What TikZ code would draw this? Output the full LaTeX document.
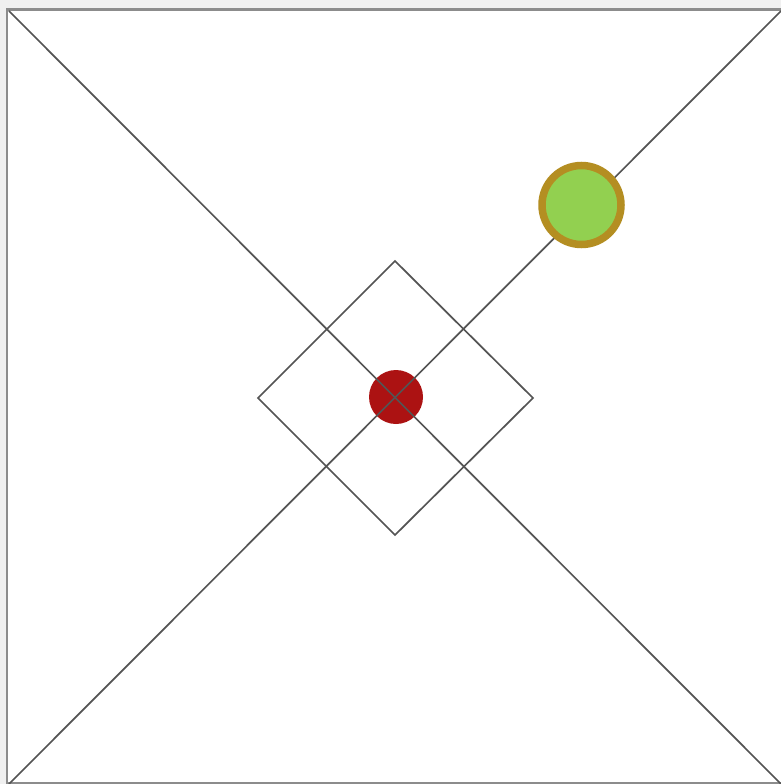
\documentclass[tikz,border=0pt]{standalone}
\begin{document}
\begin{tikzpicture}[x=1pt,y=-1pt,
  lineseg/.style={draw=black!67,line width=1.7pt},
  reddot/.style={circle,fill=red!65!black,fill opacity=0.93,minimum size=54pt,inner sep=0pt},
  greendot/.style={circle,fill={rgb,255:red,146;green,208;blue,80},draw={rgb,255:red,180;green,142;blue,34},line width=7.5pt,minimum size=79pt,inner sep=0pt}]
\useasboundingbox (0,0) rectangle (781,784);
\clip (0,0) rectangle (781,784);
\fill[black!6] (0,0) rectangle (781,784);
\draw[fill=white,draw=black!45,line width=2.6pt] (7,9.5) rectangle (790,783);
\coordinate (tl) at (9,11);
\coordinate (br) at (781,784);
\coordinate (bl) at (9,784);
\coordinate (tr) at (781,11);
\coordinate (dt) at (395,261);
\coordinate (dr) at (533,398);
\coordinate (db) at (395,535);
\coordinate (dl) at (258,398);
\node[reddot] (red) at (396,397) {};
\draw[lineseg] (tl) -- (br);
\draw[lineseg] (bl) -- (tr);
\draw[lineseg,line join=miter] (dt) -- (dr) -- (db) -- (dl) -- cycle;
\node[greendot] (green) at (581.5,205) {};
\end{tikzpicture}
\end{document}
